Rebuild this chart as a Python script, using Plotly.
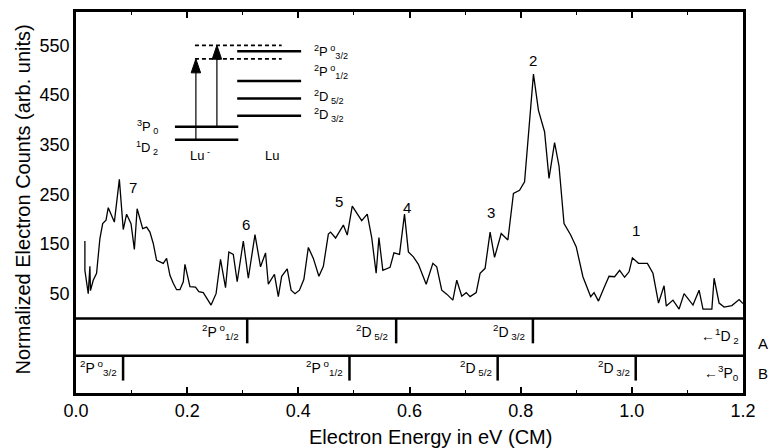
import plotly.graph_objects as go

# ---------------- data ----------------
energy_ev = [
    0.016, 0.016, 0.022, 0.025, 0.026, 0.031, 0.037, 0.043, 0.048, 0.054,
    0.058, 0.064, 0.069, 0.078, 0.085, 0.091, 0.099, 0.105, 0.110, 0.120,
    0.127, 0.133, 0.139, 0.145, 0.153, 0.157, 0.163, 0.169, 0.175, 0.181,
    0.187, 0.193, 0.196,
    0.205, 0.215, 0.221, 0.229, 0.233, 0.243, 0.252, 0.260, 0.269, 0.275,
    0.283, 0.290, 0.301, 0.310, 0.322, 0.332, 0.341, 0.346, 0.357, 0.364,
    0.370, 0.380, 0.387, 0.394, 0.402,
    0.410, 0.418, 0.427, 0.437, 0.445, 0.454, 0.458, 0.467, 0.481, 0.488,
    0.497, 0.514, 0.524, 0.532, 0.540, 0.545, 0.552, 0.565, 0.572, 0.582,
    0.591, 0.598,
    0.607, 0.616, 0.630, 0.642, 0.649, 0.658, 0.667, 0.678, 0.685, 0.694,
    0.702, 0.709, 0.720, 0.727, 0.736, 0.745, 0.753, 0.765, 0.777, 0.787,
    0.798, 0.807, 0.818, 0.823, 0.832, 0.843, 0.851, 0.861, 0.869, 0.878,
    0.890, 0.900, 0.912, 0.920, 0.926, 0.932, 0.940, 0.950, 0.959, 0.969,
    0.978, 0.987, 0.995, 1.001, 1.012, 1.028, 1.038, 1.048, 1.058, 1.062,
    1.074, 1.085, 1.094, 1.110, 1.121, 1.128, 1.144, 1.148, 1.157, 1.166,
    1.180, 1.193, 1.200,
]
counts = [
    156, 97, 50, 105, 56, 77, 91, 161, 191, 198,
    223, 209, 194, 280, 179, 210, 191, 139, 221, 181,
    184, 174, 151, 117, 113, 111, 121, 87, 71, 58,
    58, 74, 109,
    64, 63, 54, 52, 45, 27, 50, 119, 62, 134,
    129, 74, 156, 81, 169, 104, 132, 69, 89, 44,
    85, 100, 57, 50, 57,
    79, 143, 121, 85, 105, 170, 174, 162, 188, 168,
    226, 197, 210, 163, 91, 163, 97, 103, 132, 129,
    210, 134,
    124, 109, 69, 111, 104, 57, 49, 37, 77, 45,
    52, 44, 52, 91, 101, 174, 123, 171, 158, 252,
    258, 275, 436, 492, 419, 376, 282, 354, 307, 191,
    168, 144, 84, 60, 44, 52, 35, 62, 85, 84,
    97, 83, 94, 122, 111, 111, 91, 31, 66, 25,
    37, 19, 50, 27, 57, 19, 19, 81, 31, 23,
    26, 38, 30,
]

peak_labels = ["1", "2", "3", "4", "5", "6", "7"]
peak_x = [1.007, 0.823, 0.747, 0.596, 0.473, 0.306, 0.102]
peak_y = [178, 519, 214, 224, 236, 190, 264]

# threshold strips (A: from 1D2, B: from 3P0)
stripA_pos = [0.308, 0.576, 0.822]
stripA_labels = ["<sup>2</sup>P<sup> o</sup><sub>1/2</sub>",
                 "<sup>2</sup>D<sub> 5/2</sub>",
                 "<sup>2</sup>D<sub> 3/2</sub>"]
stripA_origin = "←<sup>1</sup>D<sub> 2</sub>"
stripB_pos = [0.0847, 0.492, 0.7586, 1.007]
stripB_labels = ["<sup>2</sup>P<sup> o</sup><sub>3/2</sub>",
                 "<sup>2</sup>P<sup> o</sup><sub>1/2</sub>",
                 "<sup>2</sup>D<sub> 5/2</sub>",
                 "<sup>2</sup>D<sub> 3/2</sub>"]
stripB_origin = "←<sup>3</sup>P<sub>0</sub>"

x_ticks = [0.0, 0.2, 0.4, 0.6, 0.8, 1.0, 1.2]
y_ticks = [50, 150, 250, 350, 450, 550]

# inset energy-level diagram (drawn in data units)
anion_levels = [360, 386]
anion_level_names = ["<sup>1</sup>D<sub> 2</sub>", "<sup>3</sup>P<sub> 0</sub>"]
atom_levels = [408, 443, 478, 538]
atom_level_names = ["<sup>2</sup>D<sub> 3/2</sub>", "<sup>2</sup>D<sub> 5/2</sub>",
                    "<sup>2</sup>P<sup> o</sup><sub>1/2</sub>",
                    "<sup>2</sup>P<sup> o</sup><sub>3/2</sub>"]
atom_label_y = [409, 446, 497, 537]
photon_tops = [522.5, 550]
arrow_x = [0.2157, 0.2535]

FONT = "Liberation Sans, Arial, sans-serif"

fig = go.Figure()
fig.add_trace(go.Scatter(x=energy_ev, y=counts, mode="lines",
                         line=dict(color="black", width=1.3),
                         showlegend=False, hoverinfo="skip"))

shapes = []
annotations = []

# strip separators
for yv in [0, -75]:
    shapes.append(dict(type="line", xref="paper", yref="y", x0=0, x1=1,
                       y0=yv, y1=yv, line=dict(color="black", width=2.5)))

for xv, lab in zip(stripA_pos, stripA_labels):
    shapes.append(dict(type="line", xref="x", yref="y", x0=xv, x1=xv,
                       y0=0, y1=-50, line=dict(color="black", width=2.5)))
    annotations.append(dict(x=xv, y=-27, xref="x", yref="y", text=lab,
                            showarrow=False, xanchor="right", yanchor="middle",
                            xshift=-6, font=dict(size=14)))
for xv, lab in zip(stripB_pos, stripB_labels):
    shapes.append(dict(type="line", xref="x", yref="y", x0=xv, x1=xv,
                       y0=-75, y1=-125, line=dict(color="black", width=2.5)))
    annotations.append(dict(x=xv, y=-100, xref="x", yref="y", text=lab,
                            showarrow=False, xanchor="right", yanchor="middle",
                            xshift=-4, font=dict(size=14)))
annotations.append(dict(x=1.197, y=-36, xref="x", yref="y", text=stripA_origin,
                        showarrow=False, xanchor="right", yanchor="middle",
                        font=dict(size=14)))
annotations.append(dict(x=1.197, y=-110, xref="x", yref="y", text=stripB_origin,
                        showarrow=False, xanchor="right", yanchor="middle",
                        font=dict(size=14)))
annotations.append(dict(x=1.030, y=-50, xref="paper", yref="y", text="A",
                        showarrow=False, xanchor="center", yanchor="middle",
                        font=dict(size=15)))
annotations.append(dict(x=1.030, y=-111, xref="paper", yref="y", text="B",
                        showarrow=False, xanchor="center", yanchor="middle",
                        font=dict(size=15)))

# peak numbers
for t, xv, yv in zip(peak_labels, peak_x, peak_y):
    annotations.append(dict(x=xv, y=yv, xref="x", yref="y", text=t,
                            showarrow=False, font=dict(size=15)))

# inset diagram
for yv in anion_levels:
    shapes.append(dict(type="line", xref="x", yref="y", x0=0.178, x1=0.292,
                       y0=yv, y1=yv, line=dict(color="black", width=2.5)))
for yv in atom_levels:
    shapes.append(dict(type="line", xref="x", yref="y", x0=0.290, x1=0.405,
                       y0=yv, y1=yv, line=dict(color="black", width=2.5)))
for yv in photon_tops:
    shapes.append(dict(type="line", xref="x", yref="y", x0=0.214, x1=0.370,
                       y0=yv, y1=yv, line=dict(color="black", width=1.8, dash="4px,3px")))
for xv, y0, y1 in zip(arrow_x, anion_levels, photon_tops):
    shapes.append(dict(type="line", xref="x", yref="y", x0=xv, x1=xv,
                       y0=y0, y1=y1 - 20, line=dict(color="black", width=1.2)))
    hw = 0.0085
    shapes.append(dict(type="path", xref="x", yref="y",
                       path=f"M {xv-hw},{y1-28} L {xv+hw},{y1-28} L {xv},{y1} Z",
                       fillcolor="black", line=dict(color="black", width=1)))
for yv, lab in zip(atom_label_y, atom_level_names):
    annotations.append(dict(x=0.424, y=yv, xref="x", yref="y", text=lab,
                            showarrow=False, xanchor="left", yanchor="middle",
                            font=dict(size=13)))
for yv, lab in zip([343, 386], anion_level_names):
    annotations.append(dict(x=0.152, y=yv, xref="x", yref="y", text=lab,
                            showarrow=False, xanchor="right", yanchor="middle",
                            font=dict(size=13)))
annotations.append(dict(x=0.223, y=329, xref="x", yref="y", text="Lu<sup> -</sup>",
                        showarrow=False, font=dict(size=13)))
annotations.append(dict(x=0.353, y=329, xref="x", yref="y", text="Lu",
                        showarrow=False, font=dict(size=13)))

# axis titles
annotations.append(dict(x=0.531, y=-0.115, xref="paper", yref="paper",
                        text="Electron Energy in eV (CM)", showarrow=False,
                        xanchor="center", yanchor="middle", font=dict(size=20)))
annotations.append(dict(x=-0.080, y=0.507, xref="paper", yref="paper",
                        text="Normalized Electron Counts (arb. units)", showarrow=False,
                        textangle=-90, xanchor="center", yanchor="middle",
                        font=dict(size=20)))

fig.update_layout(
    width=770, height=448,
    margin=dict(l=76, r=27, t=12, b=55),
    paper_bgcolor="white", plot_bgcolor="white",
    font=dict(family=FONT, color="black"),
    shapes=shapes, annotations=annotations,
    showlegend=False,
)
fig.update_xaxes(range=[0, 1.2], tickvals=x_ticks, ticktext=[f"{v:.1f}" for v in x_ticks],
                 showline=True, linecolor="black", linewidth=2.5, mirror="ticks",
                 ticks="inside", ticklen=6, tickwidth=1.5, tickcolor="black",
                 minor=dict(dtick=0.1, tick0=0, ticks="inside", ticklen=3, tickwidth=1.2,
                            tickcolor="black", showgrid=False),
                 showgrid=False, zeroline=False, tickfont=dict(size=18),
                 automargin=False)
fig.update_yaxes(range=[-150, 617], tickvals=y_ticks,
                 showline=True, linecolor="black", linewidth=2.5, mirror=True,
                 ticks="", showgrid=False, zeroline=False, tickfont=dict(size=18),
                 automargin=False)

fig.write_html("out.html")
